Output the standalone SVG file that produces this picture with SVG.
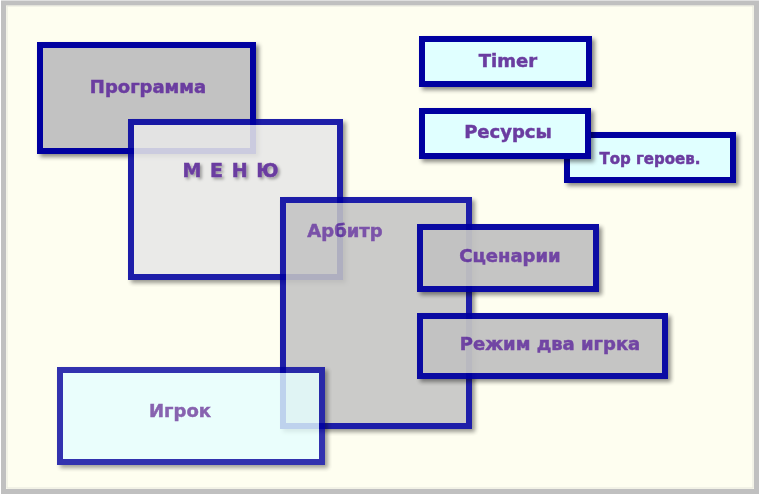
<svg xmlns="http://www.w3.org/2000/svg" width="761" height="499" viewBox="0 0 761 499">
<defs>
<filter id="sh" x="-10%" y="-10%" width="130%" height="140%">
<feDropShadow dx="3" dy="3" stdDeviation="2" flood-color="#000" flood-opacity="0.45"/>
</filter>
<filter id="tsh" x="-10%" y="-30%" width="130%" height="170%">
<feDropShadow dx="2" dy="2" stdDeviation="1.5" flood-color="#000" flood-opacity="0.35"/>
</filter>
<style>
.box{stroke:#0505A0;stroke-width:6}
.gray{fill:#C2C2C2}
.cyan{fill:#E0FFFF}
.t{font-family:"DejaVu Sans",Verdana,sans-serif;font-weight:bold;font-size:18px;fill:#6B3CA0;stroke:#6B3CA0;stroke-width:0.5;text-anchor:middle}
</style>
</defs>
<rect x="0" y="0" width="761" height="499" fill="#FFFFFF"/>
<rect x="3.5" y="3" width="753" height="488.5" fill="#FEFEF0" stroke="#C0C0C0" stroke-width="5"/>
<rect x="7" y="6" width="746" height="482" fill="none" stroke="#E6E6DC" stroke-width="1"/>

<g id="programma" filter="url(#sh)">
<rect class="box gray" x="40" y="45" width="213" height="106"/>
<text class="t" x="148" y="93">Программа</text>
</g>

<g id="menu" opacity="0.88" filter="url(#sh)">
<rect class="box" fill="#E8E8E8" x="131" y="122" width="209" height="155"/>
</g>
<text class="t" x="231" y="177" style="font-size:19px;letter-spacing:1px" filter="url(#tsh)">М Е Н Ю</text>

<g id="arbitr" opacity="0.88" filter="url(#sh)">
<rect class="box" fill="#C4C4C4" x="283" y="200" width="186" height="226"/>
<text class="t" x="345" y="237">Арбитр</text>
</g>

<g id="scenarii" opacity="0.95" filter="url(#sh)">
<rect class="box gray" x="420" y="227" width="176" height="62"/>
<text class="t" x="510" y="262">Сценарии</text>
</g>

<g id="rezhim" opacity="0.95" filter="url(#sh)">
<rect class="box gray" x="420" y="316" width="245" height="60"/>
<text class="t" x="550" y="350">Режим два игрка</text>
</g>

<g id="igrok" opacity="0.8" filter="url(#sh)">
<rect class="box" fill="#E6FFFF" x="60" y="370" width="262" height="92"/>
<text class="t" x="180" y="417">Игрок</text>
</g>

<g id="timer" filter="url(#sh)">
<rect class="box cyan" x="422" y="39" width="167" height="45"/>
<text class="t" x="508" y="67">Timer</text>
</g>

<g id="top" filter="url(#sh)">
<rect class="box cyan" x="567" y="135" width="166" height="45"/>
<text class="t" x="650" y="164" style="font-size:15px">Тор героев.</text>
</g>

<g id="resursy" filter="url(#sh)">
<rect class="box cyan" x="422" y="111" width="166" height="45"/>
<text class="t" x="508" y="138">Ресурсы</text>
</g>

<g id="connectors"></g>
</svg>
